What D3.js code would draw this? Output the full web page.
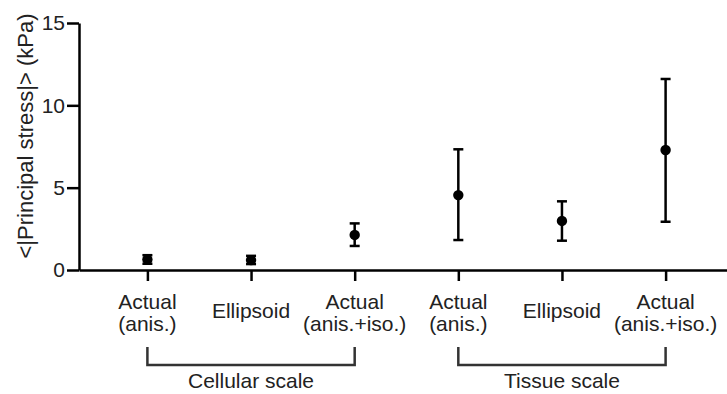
<!DOCTYPE html>
<html>
<head>
<meta charset="utf-8">
<script src="https://cdn.jsdelivr.net/npm/d3@7/dist/d3.min.js"></script>
<style>
  html, body { margin: 0; padding: 0; background: #fff; }
  svg { display: block; font-family: "Liberation Sans", Arial, sans-serif; }
</style>
</head>
<body>
<svg id="chart" width="727" height="394"></svg>
<script>
// categories (unique ids) and their two-line tick labels
const groupIds = ["cell-anis", "cell-ell", "cell-iso", "tis-anis", "tis-ell", "tis-iso"];
const tickLabels = [
    ["Actual", "(anis.)"],
    ["Ellipsoid"],
    ["Actual", "(anis.+iso.)"],
    ["Actual", "(anis.)"],
    ["Ellipsoid"],
    ["Actual", "(anis.+iso.)"]
];
// mean and error-bar ends (kPa)
const means = [0.64, 0.6, 2.13, 4.55, 2.98, 7.29];
const lower = [0.38, 0.36, 1.46, 1.82, 1.78, 2.93];
const upper = [0.9, 0.86, 2.83, 7.33, 4.17, 11.6];
const yTicks = [0, 5, 10, 15];
// group brackets below the axis
const groups = [
    { label: "Cellular scale", from: "cell-anis", to: "cell-iso" },
    { label: "Tissue scale", from: "tis-anis", to: "tis-iso" }
];

const svg = d3.select("#chart");
const fontSize = 21;

const x = d3.scalePoint()
    .domain(groupIds)
    .range([79, 734])
    .padding(0.66);

const y = d3.scaleLinear()
    .domain([0, 15])
    .range([270, 23]);

const data = groupIds.map((id, i) => ({
    id, mean: means[i], lo: lower[i], hi: upper[i]
}));

// axes
const yAxis = svg.append("g")
    .attr("transform", `translate(${x.range()[0]},0)`)
    .call(d3.axisLeft(y).tickValues(yTicks).tickSize(12).tickSizeOuter(0).tickPadding(2));

const xAxis = svg.append("g")
    .attr("transform", `translate(0,${y(0)})`)
    .call(d3.axisBottom(x).tickSize(11).tickSizeOuter(0).tickFormat(() => ""));

[yAxis, xAxis].forEach(a => {
    a.attr("font-size", fontSize).attr("font-family", null);
    a.select(".domain").attr("stroke", "#000").attr("stroke-width", 2.5);
    a.selectAll(".tick line").attr("stroke", "#000").attr("stroke-width", 2.5);
});
yAxis.selectAll(".tick text")
    .style("font-size", fontSize + "px")
    .attr("fill", "#222");

// category labels
const labelG = svg.append("g");
groupIds.forEach((id, i) => {
    const lines = tickLabels[i];
    const t = labelG.append("text")
        .attr("x", x(id))
        .attr("text-anchor", "middle")
        .style("font-size", fontSize + "px")
        .attr("fill", "#222");
    if (lines.length === 1) {
        t.attr("y", 318).text(lines[0]);
    } else {
        lines.forEach((line, j) => {
            t.append("tspan").attr("x", x(id)).attr("y", 309 + j * 22).text(line);
        });
    }
});

// y axis title
svg.append("text")
    .attr("transform", "translate(33,136) rotate(-90)")
    .attr("text-anchor", "middle")
    .style("font-size", "22px")
    .attr("fill", "#222")
    .text("<|Principal stress|> (kPa)");

// error bars
const capW = 10;
const bars = svg.append("g").selectAll("g")
    .data(data)
    .join("g")
    .attr("stroke", "#000")
    .attr("stroke-width", 2.5);

bars.append("line")
    .attr("x1", d => x(d.id)).attr("x2", d => x(d.id))
    .attr("y1", d => y(d.lo)).attr("y2", d => y(d.hi));
bars.append("line")
    .attr("x1", d => x(d.id) - capW / 2).attr("x2", d => x(d.id) + capW / 2)
    .attr("y1", d => y(d.hi)).attr("y2", d => y(d.hi));
bars.append("line")
    .attr("x1", d => x(d.id) - capW / 2).attr("x2", d => x(d.id) + capW / 2)
    .attr("y1", d => y(d.lo)).attr("y2", d => y(d.lo));

svg.append("g").selectAll("circle")
    .data(data)
    .join("circle")
    .attr("cx", d => x(d.id))
    .attr("cy", d => y(d.mean))
    .attr("r", 5.2)
    .attr("fill", "#000");

// group brackets
const br = svg.append("g");
groups.forEach(g => {
    const x0 = x(g.from), x1 = x(g.to);
    br.append("path")
        .attr("d", `M${x0},347V365H${x1}V347`)
        .attr("fill", "none")
        .attr("stroke", "#333")
        .attr("stroke-width", 2.5);
    br.append("text")
        .attr("x", (x0 + x1) / 2)
        .attr("y", 388)
        .attr("text-anchor", "middle")
        .style("font-size", fontSize + "px")
        .attr("fill", "#222")
        .text(g.label);
});
</script>
</body>
</html>
